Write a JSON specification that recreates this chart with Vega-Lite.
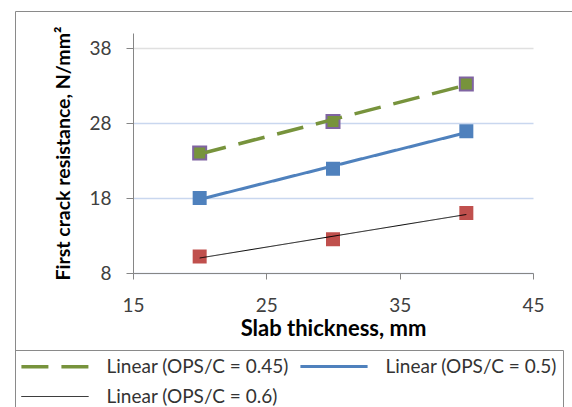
{
  "$schema": "https://vega.github.io/schema/vega-lite/v6.json",
  "width": 400,
  "height": 240,
  "autosize": {"type": "none"},
  "padding": {"left": 133, "top": 33, "right": 39, "bottom": 134},
  "background": "white",
  "config": {"view": {"stroke": null}, "font": "Lato"},
  "data": {
    "values": [
      {"thickness": 20, "resistance": 24.0, "series": "OPS/C = 0.45"},
      {"thickness": 30, "resistance": 28.2, "series": "OPS/C = 0.45"},
      {"thickness": 40, "resistance": 33.2, "series": "OPS/C = 0.45"},
      {"thickness": 20, "resistance": 18.0, "series": "OPS/C = 0.5"},
      {"thickness": 30, "resistance": 21.9, "series": "OPS/C = 0.5"},
      {"thickness": 40, "resistance": 26.9, "series": "OPS/C = 0.5"},
      {"thickness": 20, "resistance": 10.2, "series": "OPS/C = 0.6"},
      {"thickness": 30, "resistance": 12.5, "series": "OPS/C = 0.6"},
      {"thickness": 40, "resistance": 16.0, "series": "OPS/C = 0.6"}
    ]
  },
  "encoding": {
    "x": {
      "field": "thickness", "type": "quantitative",
      "scale": {"domain": [15, 45], "nice": false, "zero": false},
      "axis": {
        "values": [15, 25, 35, 45], "grid": false,
        "title": "Slab thickness, mm",
        "domainColor": "#868686", "tickColor": "#868686", "tickSize": 6,
        "labelFont": "Lato", "labelFontSize": 19, "labelColor": "#404040", "labelPadding": 17, "labelFlush": false,
        "titleFont": "Lato", "titleFontSize": 22, "titleFontWeight": "bold", "titleColor": "#000000", "titlePadding": 3
      }
    },
    "y": {
      "field": "resistance", "type": "quantitative",
      "scale": {"domain": [8, 40], "nice": false, "zero": false},
      "axis": {
        "values": [8, 18, 28, 38], "grid": true,
        "gridColor": {"condition": {"test": "datum.value === 38", "value": "#e0e0e0"}, "value": "#c9d7ef"},
        "gridWidth": 1.5,
        "title": "First crack resistance, N/mm²",
        "domainColor": "#868686", "tickColor": "#868686", "tickSize": 7,
        "labelFont": "Lato", "labelFontSize": 19, "labelColor": "#404040", "labelPadding": 15,
        "titleFont": "Lato", "titleFontSize": 19.5, "titleFontWeight": "bold", "titleColor": "#000000", "titlePadding": 15
      }
    }
  },
  "layer": [
    {
      "mark": {"type": "point", "shape": "square", "filled": true, "opacity": 1},
      "encoding": {
        "fill": {
          "field": "series", "type": "nominal",
          "scale": {"range": ["#77933c", "#4f81bd", "#c0504d"]},
          "legend": {
            "title": null, "orient": "none", "legendX": -118, "legendY": -22,
            "padding": 800, "strokeColor": "#8a8a8a",
            "labelFontSize": 1, "symbolSize": 1, "labelExpr": "''",
            "encode": {"legend": {"update": {"strokeWidth": {"value": 2}}}}
          }
        },
        "stroke": {"condition": {"test": "datum.series === 'OPS/C = 0.45'", "value": "#8064a2"}, "value": null},
        "strokeWidth": {"value": 2},
        "size": {"condition": {"test": "datum.series === 'OPS/C = 0.45'", "value": 169}, "value": 196}
      }
    },
    {
      "transform": [
        {"regression": "resistance", "on": "thickness", "groupby": ["series"], "extent": [20, 40]}
      ],
      "mark": {"type": "line"},
      "encoding": {
        "stroke": {
          "field": "series", "type": "nominal",
          "scale": {"range": ["#77933c", "#4f81bd", "#000000"]},
          "legend": {
            "title": null, "orient": "none", "legendX": -118, "legendY": 317,
            "direction": "horizontal", "columns": 2, "padding": 6,
            "strokeColor": "#8a8a8a",
            "symbolType": "M-5.3,0M-4,0H4", "symbolSize": 282,
            "symbolOffset": 23.5, "labelOffset": 41,
            "labelFont": "Lato", "labelFontSize": 19, "labelColor": "#333333", "labelLimit": 0,
            "labelExpr": "'Linear (' + datum.label + ')'",
            "columnPadding": -6, "rowPadding": 10
          }
        },
        "strokeDash": {
          "field": "series", "type": "nominal",
          "scale": {"range": [[27, 13], [1, 0], [1, 0]]}
        },
        "strokeWidth": {
          "field": "series", "type": "nominal",
          "scale": {"type": "ordinal", "range": [3.5, 3, 1]}
        }
      }
    }
  ]
}
